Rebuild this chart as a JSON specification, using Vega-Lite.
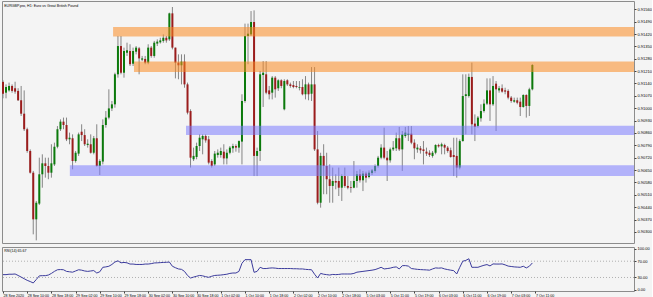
{
"$schema": "https://vega.github.io/schema/vega-lite/v6.json",
"background": "#f4f4f4",
"padding": 0,
"autosize": {"type": "pad"},
"spacing": 2,
"config": {
 "view": {"stroke": "#8c8c8c", "strokeWidth": 1, "fill": "#f4f4f4"},
 "font": "Liberation Sans",
 "scale": {"continuousPadding": 0},
 "axis": {"labelFont": "Liberation Sans", "labelFontSize": 4, "labelColor": "#000000", "tickColor": "#444444", "tickSize": 2, "domain": false, "grid": false, "title": null, "labelPadding": 1, "labelOverlap": false, "tickCount": 200}
},
"datasets": {
 "zones": [
  {"kind": "supply", "start": 36.4, "end": 209, "top": 0.91460, "bottom": 0.91406},
  {"kind": "supply", "start": 43.3, "end": 209, "top": 0.91265, "bottom": 0.91205},
  {"kind": "demand", "start": 60.5, "end": 209, "top": 0.90901, "bottom": 0.90848},
  {"kind": "demand", "start": 22.1, "end": 209, "top": 0.90677, "bottom": 0.90616}
 ],
 "candles": [
{"bar":0,"open":0.91149,"high":0.91158,"low":0.91056,"close":0.91082,"rsi":37},
{"bar":1,"open":0.91088,"high":0.91135,"low":0.91056,"close":0.91120,"rsi":37},
{"bar":2,"open":0.91101,"high":0.91145,"low":0.91094,"close":0.91126,"rsi":38},
{"bar":3,"open":0.91126,"high":0.91135,"low":0.91088,"close":0.91098,"rsi":38},
{"bar":4,"open":0.91113,"high":0.91150,"low":0.91082,"close":0.91094,"rsi":38.6},
{"bar":5,"open":0.91098,"high":0.91113,"low":0.91041,"close":0.91045,"rsi":35},
{"bar":6,"open":0.91045,"high":0.91126,"low":0.90956,"close":0.90969,"rsi":31},
{"bar":7,"open":0.90969,"high":0.91101,"low":0.90871,"close":0.90881,"rsi":27},
{"bar":8,"open":0.90881,"high":0.90890,"low":0.90748,"close":0.90758,"rsi":23},
{"bar":9,"open":0.90758,"high":0.90767,"low":0.90630,"close":0.90635,"rsi":20},
{"bar":10,"open":0.90635,"high":0.90645,"low":0.90286,"close":0.90371,"rsi":16.5},
{"bar":11,"open":0.90371,"high":0.90475,"low":0.90252,"close":0.90465,"rsi":25},
{"bar":12,"open":0.90460,"high":0.90720,"low":0.90452,"close":0.90626,"rsi":34},
{"bar":13,"open":0.90626,"high":0.90739,"low":0.90550,"close":0.90688,"rsi":34.5},
{"bar":14,"open":0.90688,"high":0.90720,"low":0.90607,"close":0.90673,"rsi":34.5},
{"bar":15,"open":0.90673,"high":0.90720,"low":0.90598,"close":0.90635,"rsi":36},
{"bar":16,"open":0.90635,"high":0.90796,"low":0.90607,"close":0.90688,"rsi":40},
{"bar":17,"open":0.90682,"high":0.90805,"low":0.90673,"close":0.90782,"rsi":45},
{"bar":18,"open":0.90782,"high":0.90899,"low":0.90773,"close":0.90881,"rsi":49},
{"bar":19,"open":0.90881,"high":0.90937,"low":0.90871,"close":0.90924,"rsi":49.5},
{"bar":20,"open":0.90924,"high":0.90947,"low":0.90881,"close":0.90905,"rsi":49},
{"bar":21,"open":0.90905,"high":0.90947,"low":0.90814,"close":0.90824,"rsi":45},
{"bar":22,"open":0.90824,"high":0.90862,"low":0.90796,"close":0.90833,"rsi":44},
{"bar":23,"open":0.90830,"high":0.90852,"low":0.90654,"close":0.90701,"rsi":43},
{"bar":24,"open":0.90701,"high":0.90758,"low":0.90692,"close":0.90748,"rsi":46},
{"bar":25,"open":0.90743,"high":0.90862,"low":0.90730,"close":0.90852,"rsi":49},
{"bar":26,"open":0.90867,"high":0.90909,"low":0.90814,"close":0.90848,"rsi":48},
{"bar":27,"open":0.90848,"high":0.90881,"low":0.90786,"close":0.90796,"rsi":46},
{"bar":28,"open":0.90792,"high":0.90824,"low":0.90777,"close":0.90799,"rsi":45},
{"bar":29,"open":0.90796,"high":0.90852,"low":0.90743,"close":0.90748,"rsi":46},
{"bar":30,"open":0.90748,"high":0.90843,"low":0.90739,"close":0.90830,"rsi":47},
{"bar":31,"open":0.90830,"high":0.90909,"low":0.90669,"close":0.90673,"rsi":41},
{"bar":32,"open":0.90673,"high":0.90711,"low":0.90622,"close":0.90701,"rsi":44},
{"bar":33,"open":0.90698,"high":0.90937,"low":0.90682,"close":0.90905,"rsi":55},
{"bar":34,"open":0.90905,"high":0.90984,"low":0.90890,"close":0.90947,"rsi":56},
{"bar":35,"open":0.90947,"high":0.91107,"low":0.90937,"close":0.90999,"rsi":57.6},
{"bar":36,"open":0.90999,"high":0.91041,"low":0.90984,"close":0.91022,"rsi":62},
{"bar":37,"open":0.91022,"high":0.91201,"low":0.91003,"close":0.91192,"rsi":68},
{"bar":38,"open":0.91192,"high":0.91409,"low":0.91173,"close":0.91352,"rsi":71},
{"bar":39,"open":0.91352,"high":0.91409,"low":0.91192,"close":0.91201,"rsi":66},
{"bar":40,"open":0.91201,"high":0.91343,"low":0.91173,"close":0.91324,"rsi":67},
{"bar":41,"open":0.91314,"high":0.91371,"low":0.91296,"close":0.91328,"rsi":66},
{"bar":42,"open":0.91324,"high":0.91362,"low":0.91239,"close":0.91249,"rsi":63},
{"bar":43,"open":0.91252,"high":0.91343,"low":0.91239,"close":0.91324,"rsi":63},
{"bar":44,"open":0.91320,"high":0.91352,"low":0.91305,"close":0.91343,"rsi":62},
{"bar":45,"open":0.91339,"high":0.91347,"low":0.91192,"close":0.91282,"rsi":62},
{"bar":46,"open":0.91275,"high":0.91296,"low":0.91267,"close":0.91282,"rsi":62},
{"bar":47,"open":0.91279,"high":0.91296,"low":0.91249,"close":0.91258,"rsi":63},
{"bar":48,"open":0.91258,"high":0.91362,"low":0.91249,"close":0.91343,"rsi":63},
{"bar":49,"open":0.91343,"high":0.91352,"low":0.91286,"close":0.91296,"rsi":64},
{"bar":50,"open":0.91296,"high":0.91381,"low":0.91286,"close":0.91371,"rsi":65.7},
{"bar":51,"open":0.91366,"high":0.91390,"low":0.91352,"close":0.91377,"rsi":66},
{"bar":52,"open":0.91373,"high":0.91399,"low":0.91366,"close":0.91384,"rsi":66.5},
{"bar":53,"open":0.91381,"high":0.91418,"low":0.91371,"close":0.91399,"rsi":67},
{"bar":54,"open":0.91399,"high":0.91409,"low":0.91371,"close":0.91384,"rsi":67.3},
{"bar":55,"open":0.91390,"high":0.91541,"low":0.91381,"close":0.91537,"rsi":68},
{"bar":56,"open":0.91537,"high":0.91573,"low":0.91333,"close":0.91343,"rsi":57.6},
{"bar":57,"open":0.91343,"high":0.91343,"low":0.91169,"close":0.91258,"rsi":54},
{"bar":58,"open":0.91258,"high":0.91305,"low":0.91164,"close":0.91243,"rsi":51},
{"bar":59,"open":0.91243,"high":0.91305,"low":0.91135,"close":0.91264,"rsi":50},
{"bar":60,"open":0.91264,"high":0.91305,"low":0.91116,"close":0.91135,"rsi":45},
{"bar":61,"open":0.91135,"high":0.91145,"low":0.90965,"close":0.90975,"rsi":35},
{"bar":62,"open":0.90984,"high":0.90994,"low":0.90664,"close":0.90720,"rsi":28.7},
{"bar":63,"open":0.90711,"high":0.90777,"low":0.90701,"close":0.90730,"rsi":31},
{"bar":64,"open":0.90724,"high":0.90805,"low":0.90711,"close":0.90786,"rsi":33},
{"bar":65,"open":0.90786,"high":0.90852,"low":0.90758,"close":0.90833,"rsi":35},
{"bar":66,"open":0.90824,"high":0.90852,"low":0.90739,"close":0.90843,"rsi":34},
{"bar":67,"open":0.90843,"high":0.90852,"low":0.90805,"close":0.90818,"rsi":32},
{"bar":68,"open":0.90824,"high":0.90843,"low":0.90682,"close":0.90692,"rsi":30.4},
{"bar":69,"open":0.90701,"high":0.90711,"low":0.90664,"close":0.90673,"rsi":33},
{"bar":70,"open":0.90682,"high":0.90758,"low":0.90673,"close":0.90743,"rsi":35},
{"bar":71,"open":0.90735,"high":0.90767,"low":0.90720,"close":0.90748,"rsi":35.5},
{"bar":72,"open":0.90735,"high":0.90777,"low":0.90720,"close":0.90758,"rsi":36},
{"bar":73,"open":0.90754,"high":0.90796,"low":0.90682,"close":0.90716,"rsi":37},
{"bar":74,"open":0.90716,"high":0.90767,"low":0.90682,"close":0.90748,"rsi":38},
{"bar":75,"open":0.90748,"high":0.90786,"low":0.90739,"close":0.90777,"rsi":40},
{"bar":76,"open":0.90773,"high":0.90799,"low":0.90748,"close":0.90786,"rsi":41},
{"bar":77,"open":0.90786,"high":0.90796,"low":0.90754,"close":0.90777,"rsi":41},
{"bar":78,"open":0.90777,"high":0.90818,"low":0.90748,"close":0.90814,"rsi":45},
{"bar":79,"open":0.90811,"high":0.91079,"low":0.90682,"close":0.91041,"rsi":65},
{"bar":80,"open":0.91041,"high":0.91479,"low":0.91031,"close":0.91409,"rsi":73.8},
{"bar":81,"open":0.91409,"high":0.91479,"low":0.91249,"close":0.91422,"rsi":73.8},
{"bar":82,"open":0.91418,"high":0.91550,"low":0.91409,"close":0.91488,"rsi":73.8},
{"bar":83,"open":0.91488,"high":0.91554,"low":0.90616,"close":0.90730,"rsi":42.7},
{"bar":84,"open":0.90730,"high":0.90777,"low":0.90616,"close":0.90758,"rsi":45},
{"bar":85,"open":0.90758,"high":0.91211,"low":0.90701,"close":0.91192,"rsi":55},
{"bar":86,"open":0.91188,"high":0.91267,"low":0.91007,"close":0.91201,"rsi":52},
{"bar":87,"open":0.91192,"high":0.91267,"low":0.91079,"close":0.91088,"rsi":52},
{"bar":88,"open":0.91101,"high":0.91126,"low":0.91050,"close":0.91079,"rsi":53},
{"bar":89,"open":0.91088,"high":0.91182,"low":0.91050,"close":0.91173,"rsi":53.5},
{"bar":90,"open":0.91173,"high":0.91182,"low":0.91060,"close":0.91107,"rsi":53},
{"bar":91,"open":0.91113,"high":0.91164,"low":0.91098,"close":0.91158,"rsi":52},
{"bar":92,"open":0.91158,"high":0.91164,"low":0.91113,"close":0.91126,"rsi":52},
{"bar":93,"open":0.90994,"high":0.91164,"low":0.90988,"close":0.91154,"rsi":52},
{"bar":94,"open":0.91158,"high":0.91164,"low":0.91126,"close":0.91135,"rsi":52},
{"bar":95,"open":0.91135,"high":0.91145,"low":0.91116,"close":0.91126,"rsi":52},
{"bar":96,"open":0.91131,"high":0.91154,"low":0.91113,"close":0.91120,"rsi":51.5},
{"bar":97,"open":0.91126,"high":0.91154,"low":0.91113,"close":0.91120,"rsi":51.5},
{"bar":98,"open":0.91116,"high":0.91154,"low":0.91101,"close":0.91120,"rsi":51},
{"bar":99,"open":0.91120,"high":0.91164,"low":0.91073,"close":0.91079,"rsi":51},
{"bar":100,"open":0.91079,"high":0.91182,"low":0.91050,"close":0.91135,"rsi":50},
{"bar":101,"open":0.91135,"high":0.91145,"low":0.91045,"close":0.91079,"rsi":49.4},
{"bar":102,"open":0.91082,"high":0.91233,"low":0.91041,"close":0.91135,"rsi":49},
{"bar":103,"open":0.91135,"high":0.91233,"low":0.90758,"close":0.90767,"rsi":38},
{"bar":104,"open":0.90767,"high":0.90871,"low":0.90456,"close":0.90465,"rsi":28.7},
{"bar":105,"open":0.90465,"high":0.90748,"low":0.90437,"close":0.90730,"rsi":40},
{"bar":106,"open":0.90730,"high":0.90796,"low":0.90513,"close":0.90673,"rsi":38},
{"bar":107,"open":0.90673,"high":0.90748,"low":0.90513,"close":0.90598,"rsi":37},
{"bar":108,"open":0.90598,"high":0.90682,"low":0.90465,"close":0.90560,"rsi":36},
{"bar":109,"open":0.90560,"high":0.90664,"low":0.90465,"close":0.90588,"rsi":37.5},
{"bar":110,"open":0.90588,"high":0.90626,"low":0.90541,"close":0.90579,"rsi":37},
{"bar":111,"open":0.90588,"high":0.90664,"low":0.90503,"close":0.90550,"rsi":37.5},
{"bar":112,"open":0.90550,"high":0.90626,"low":0.90475,"close":0.90616,"rsi":38.6},
{"bar":113,"open":0.90616,"high":0.90664,"low":0.90550,"close":0.90560,"rsi":38.6},
{"bar":114,"open":0.90560,"high":0.90616,"low":0.90541,"close":0.90550,"rsi":38.6},
{"bar":115,"open":0.90554,"high":0.90588,"low":0.90522,"close":0.90550,"rsi":38.6},
{"bar":116,"open":0.90550,"high":0.90701,"low":0.90547,"close":0.90588,"rsi":40},
{"bar":117,"open":0.90588,"high":0.90645,"low":0.90550,"close":0.90626,"rsi":43},
{"bar":118,"open":0.90626,"high":0.90654,"low":0.90579,"close":0.90592,"rsi":44},
{"bar":119,"open":0.90592,"high":0.90645,"low":0.90531,"close":0.90630,"rsi":45},
{"bar":120,"open":0.90630,"high":0.90641,"low":0.90579,"close":0.90607,"rsi":46},
{"bar":121,"open":0.90611,"high":0.90648,"low":0.90603,"close":0.90635,"rsi":47},
{"bar":122,"open":0.90633,"high":0.90656,"low":0.90622,"close":0.90648,"rsi":48},
{"bar":123,"open":0.90645,"high":0.90682,"low":0.90635,"close":0.90673,"rsi":49.4},
{"bar":124,"open":0.90673,"high":0.90730,"low":0.90664,"close":0.90720,"rsi":52},
{"bar":125,"open":0.90720,"high":0.90796,"low":0.90711,"close":0.90777,"rsi":55},
{"bar":126,"open":0.90777,"high":0.90890,"low":0.90711,"close":0.90720,"rsi":51},
{"bar":127,"open":0.90720,"high":0.90758,"low":0.90588,"close":0.90705,"rsi":51.9},
{"bar":128,"open":0.90705,"high":0.90777,"low":0.90692,"close":0.90767,"rsi":53},
{"bar":129,"open":0.90767,"high":0.90814,"low":0.90758,"close":0.90777,"rsi":55},
{"bar":130,"open":0.90773,"high":0.90862,"low":0.90758,"close":0.90830,"rsi":56},
{"bar":131,"open":0.90830,"high":0.90894,"low":0.90758,"close":0.90767,"rsi":51},
{"bar":132,"open":0.90767,"high":0.90871,"low":0.90645,"close":0.90852,"rsi":59},
{"bar":133,"open":0.90843,"high":0.90894,"low":0.90833,"close":0.90862,"rsi":59.2},
{"bar":134,"open":0.90848,"high":0.90899,"low":0.90814,"close":0.90856,"rsi":58},
{"bar":135,"open":0.90856,"high":0.90899,"low":0.90796,"close":0.90805,"rsi":52},
{"bar":136,"open":0.90805,"high":0.90824,"low":0.90711,"close":0.90773,"rsi":51},
{"bar":137,"open":0.90767,"high":0.90796,"low":0.90748,"close":0.90777,"rsi":50},
{"bar":138,"open":0.90773,"high":0.90786,"low":0.90743,"close":0.90762,"rsi":49.4},
{"bar":139,"open":0.90767,"high":0.90814,"low":0.90682,"close":0.90758,"rsi":49},
{"bar":140,"open":0.90754,"high":0.90777,"low":0.90730,"close":0.90743,"rsi":48.6},
{"bar":141,"open":0.90748,"high":0.90762,"low":0.90724,"close":0.90735,"rsi":48},
{"bar":142,"open":0.90730,"high":0.90758,"low":0.90720,"close":0.90748,"rsi":51},
{"bar":143,"open":0.90748,"high":0.90796,"low":0.90739,"close":0.90792,"rsi":53.5},
{"bar":144,"open":0.90792,"high":0.90799,"low":0.90777,"close":0.90784,"rsi":53},
{"bar":145,"open":0.90784,"high":0.90805,"low":0.90739,"close":0.90796,"rsi":53.5},
{"bar":146,"open":0.90792,"high":0.90799,"low":0.90739,"close":0.90777,"rsi":51},
{"bar":147,"open":0.90777,"high":0.90786,"low":0.90748,"close":0.90758,"rsi":49.4},
{"bar":148,"open":0.90762,"high":0.90777,"low":0.90720,"close":0.90724,"rsi":48},
{"bar":149,"open":0.90735,"high":0.90833,"low":0.90616,"close":0.90724,"rsi":46.8},
{"bar":150,"open":0.90730,"high":0.90833,"low":0.90607,"close":0.90664,"rsi":38.6},
{"bar":151,"open":0.90664,"high":0.90824,"low":0.90654,"close":0.90814,"rsi":55},
{"bar":152,"open":0.90814,"high":0.91192,"low":0.90811,"close":0.91069,"rsi":70},
{"bar":153,"open":0.91069,"high":0.91192,"low":0.90852,"close":0.91079,"rsi":72},
{"bar":154,"open":0.91069,"high":0.91196,"low":0.91060,"close":0.91177,"rsi":76},
{"bar":155,"open":0.91177,"high":0.91258,"low":0.90852,"close":0.90909,"rsi":55},
{"bar":156,"open":0.90913,"high":0.90965,"low":0.90814,"close":0.90894,"rsi":55},
{"bar":157,"open":0.90899,"high":0.90956,"low":0.90890,"close":0.90947,"rsi":55},
{"bar":158,"open":0.90943,"high":0.91022,"low":0.90924,"close":0.90984,"rsi":57.6},
{"bar":159,"open":0.90984,"high":0.91050,"low":0.90975,"close":0.91026,"rsi":60},
{"bar":160,"open":0.91026,"high":0.91169,"low":0.91018,"close":0.91101,"rsi":61.7},
{"bar":161,"open":0.91101,"high":0.91169,"low":0.90928,"close":0.91022,"rsi":58.4},
{"bar":162,"open":0.91022,"high":0.91182,"low":0.91013,"close":0.91126,"rsi":63.3},
{"bar":163,"open":0.91139,"high":0.91154,"low":0.90871,"close":0.91107,"rsi":63},
{"bar":164,"open":0.91101,"high":0.91126,"low":0.91088,"close":0.91113,"rsi":63},
{"bar":165,"open":0.91113,"high":0.91135,"low":0.91088,"close":0.91094,"rsi":63.3},
{"bar":166,"open":0.91101,"high":0.91116,"low":0.91079,"close":0.91094,"rsi":61},
{"bar":167,"open":0.91098,"high":0.91107,"low":0.91050,"close":0.91060,"rsi":58},
{"bar":168,"open":0.91060,"high":0.91069,"low":0.91031,"close":0.91041,"rsi":57},
{"bar":169,"open":0.91037,"high":0.91060,"low":0.91031,"close":0.91045,"rsi":56},
{"bar":170,"open":0.91045,"high":0.91060,"low":0.91022,"close":0.91031,"rsi":55.5},
{"bar":171,"open":0.91037,"high":0.91060,"low":0.90956,"close":0.91007,"rsi":55},
{"bar":172,"open":0.91007,"high":0.91079,"low":0.91003,"close":0.91075,"rsi":57.6},
{"bar":173,"open":0.91075,"high":0.91079,"low":0.90947,"close":0.91013,"rsi":53.5},
{"bar":174,"open":0.91013,"high":0.91116,"low":0.90956,"close":0.91107,"rsi":57.6},
{"bar":175,"open":0.91107,"high":0.91249,"low":0.91101,"close":0.91245,"rsi":65.7}
 ]
},
"vconcat": [
 {
  "width": 632,
  "height": 242,
  "layer": [
   {
    "data": {"name": "candles"},
    "mark": {"type": "rule", "color": "#858585", "strokeWidth": 1},
    "encoding": {
     "x": {"field": "bar", "type": "quantitative", "scale": {"domain": [-0.33, 208.6], "nice": false, "zero": false, "padding": 0}, "axis": null},
     "y": {"field": "low", "type": "quantitative", "scale": {"domain": [0.90237, 0.91607], "nice": false, "zero": false, "padding": 0},
       "axis": {"orient": "right", "format": ".5f", "labelOverlap": false, "tickCount": 200, "values": [0.9156,0.9149,0.9142,0.9135,0.9128,0.9121,0.9114,0.9107,0.9100,0.9093,0.9086,0.9079,0.9072,0.9065,0.9058,0.9051,0.9044,0.9037,0.9030]}},
     "y2": {"field": "high"}
    }
   },
   {
    "data": {"name": "candles"},
    "mark": {"type": "bar", "size": 2},
    "encoding": {
     "x": {"field": "bar", "type": "quantitative"},
     "y": {"field": "open", "type": "quantitative"},
     "y2": {"field": "close"},
     "color": {"condition": {"test": "datum.close >= datum.open", "value": "#0b7a0b"}, "value": "#9b1c1c"}
    }
   },
   {
    "data": {"name": "zones"},
    "mark": {"type": "rect", "clip": true, "opacity": 0.55},
    "encoding": {
     "x": {"field": "start", "type": "quantitative"},
     "x2": {"field": "end"},
     "y": {"field": "top", "type": "quantitative"},
     "y2": {"field": "bottom"},
     "color": {"field": "kind", "type": "nominal", "scale": {"domain": ["supply", "demand"], "range": ["#fb8a20", "#7b7bff"]}, "legend": null}
    }
   },
   {
    "data": {"values": [{"label": "EURGBP.pro, H1: Euro vs Great British Pound"}]},
    "mark": {"type": "text", "align": "left", "baseline": "middle", "fontSize": 3.6, "color": "#000000", "font": "Liberation Sans"},
    "encoding": {
     "text": {"field": "label"},
     "x": {"datum": 0.4, "type": "quantitative"},
     "y": {"datum": 0.9158, "type": "quantitative"}
    }
   }
  ]
 },
 {
  "width": 632,
  "height": 44,
  "layer": [
   {
    "data": {"values": [{"level": 70}, {"level": 30}]},
    "mark": {"type": "rule", "color": "#a0a0a0", "strokeDash": [1, 2], "strokeWidth": 0.8},
    "encoding": {
     "y": {"field": "level", "type": "quantitative", "scale": {"domain": [-3.2, 104.9], "nice": false, "zero": false},
       "axis": {"orient": "right", "format": ".2f", "labelOverlap": false, "tickCount": 200, "values": [0, 30, 70, 100]}}
    }
   },
   {
    "data": {"name": "candles"},
    "mark": {"type": "line", "color": "#3b3b9c", "strokeWidth": 1},
    "encoding": {
     "x": {"field": "bar", "type": "quantitative", "scale": {"domain": [-0.33, 208.6], "nice": false, "zero": false, "padding": 0},
       "axis": {"orient": "bottom", "tickCount": 200, "values": [0,8,16,24,32,40,48,56,64,72,80,88,96,104,112,120,128,136,144,152,160,168,176], "labelAlign": "left", "labelOverlap": false, "labelBound": false, "labelFontSize": 3.6, "labelPadding": 0.5,
        "labelExpr": "['28 Sep 2020','28 Sep 10:00','28 Sep 18:00','29 Sep 02:00','29 Sep 10:00','29 Sep 18:00','30 Sep 02:00','30 Sep 10:00','30 Sep 18:00','1 Oct 02:00','1 Oct 10:00','1 Oct 18:00','2 Oct 02:00','2 Oct 10:00','2 Oct 18:00','5 Oct 03:00','5 Oct 11:00','5 Oct 19:00','6 Oct 03:00','6 Oct 11:00','6 Oct 19:00','7 Oct 03:00','7 Oct 11:00'][round(datum.value/8)]"}},
     "y": {"field": "rsi", "type": "quantitative"}
    }
   },
   {
    "data": {"values": [{"label": "RSI(14) 65.67"}]},
    "mark": {"type": "text", "align": "left", "baseline": "middle", "fontSize": 3.6, "color": "#000000", "font": "Liberation Sans"},
    "encoding": {
     "text": {"field": "label"},
     "x": {"datum": 0.4, "type": "quantitative"},
     "y": {"datum": 96, "type": "quantitative"}
    }
   }
  ]
 }
],
"resolve": {"scale": {"x": "independent", "y": "independent", "color": "independent"}}
}
